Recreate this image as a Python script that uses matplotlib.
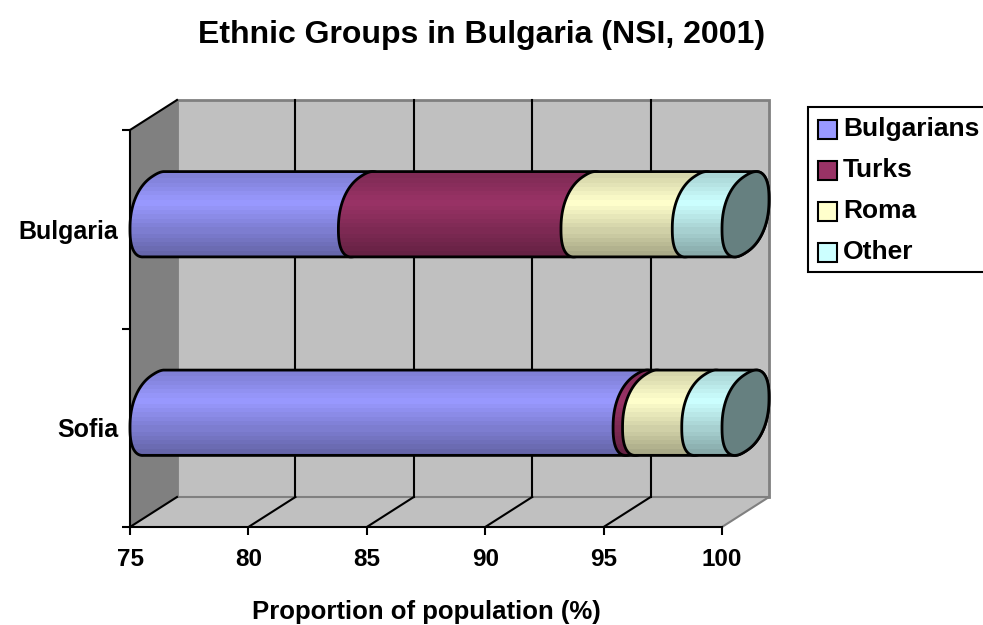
import numpy as np
import matplotlib
matplotlib.use('Agg')
import matplotlib.pyplot as plt
from matplotlib.patches import Polygon, Rectangle

# chart values
places = ['Sofia', 'Bulgaria']
groups = ['Bulgarians', 'Turks', 'Roma', 'Other']
sofia = [95.4, 0.4, 2.5, 1.7]
bulgaria = [83.8, 9.4, 4.7, 2.1]
xtick_values = [75, 80, 85, 90, 95, 100]
colors = ['#9999FF', '#993366', '#FFFFCC', '#CCFFFF']

W, H = 983, 625
plt.rcParams['font.family'] = ['Liberation Sans', 'DejaVu Sans']
plt.rcParams['font.weight'] = 'bold'

fig = plt.figure(figsize=(W / 100, H / 100), dpi=100)
ax = fig.add_axes([130 / W, 1 - 527 / H, 592 / W, 397 / H])
ax.set_xlim(75, 100)
ax.set_ylim(0, 2)

# depth of the fake 3D box, in data units
dx = 47 / (592 / 25)
dy = 30 / (397 / 2)
bar_half = 42.5 / (397 / 2)
yr = dy / 2
b = np.sqrt(bar_half ** 2 - yr ** 2) * 0.97
t_top = np.arctan2(b, yr)


def shade(color, n=40):
    # banded vertical gradient, top to bottom, lightest about a third down
    rgb = np.array(matplotlib.colors.to_rgb(color))
    t = (np.floor(np.linspace(0, 1, n) * 18) / 18)[:, None]
    f = np.where(t < 0.33, 0.84 + 0.16 * t / 0.33, 1 - 0.36 * (t - 0.33) / 0.67)
    return (rgb * f)[:, None, :]


def ring(cx, cy, t):
    # ring of the cylinder, lies in the depth plane, a bit fuller than an ellipse
    c = np.sign(np.cos(t)) * np.abs(np.cos(t)) ** 0.85
    s = np.sign(np.sin(t)) * np.abs(np.sin(t)) ** 0.85
    return np.column_stack([cx + dx / 2 * c, cy + yr * c + b * s])


# walls and floor
wall = dict(clip_on=False, zorder=0)
ax.add_patch(Polygon([(75, 0), (75 + dx, dy), (75 + dx, 2 + dy), (75, 2)],
                     facecolor='#808080', edgecolor='none', **wall))
ax.add_patch(Polygon([(75 + dx, dy), (100 + dx, dy), (100 + dx, 2 + dy), (75 + dx, 2 + dy)],
                     facecolor='#C0C0C0', edgecolor='#808080', linewidth=2, **wall))
ax.add_patch(Polygon([(75, 0), (100, 0), (100 + dx, dy), (75 + dx, dy)],
                     facecolor='#C0C0C0', edgecolor='none', **wall))
ax.plot([100, 100 + dx], [0, dy], color='#808080', lw=1.5, clip_on=False, zorder=0.5)
ax.plot([75, 75 + dx], [2, 2 + dy], color='black', lw=1.5, clip_on=False, zorder=1)
ax.plot([75 + dx, 75 + dx], [dy, 2 + dy], color='#808080', lw=1.5, clip_on=False, zorder=0.5)
ax.plot([75 + dx, 100 + dx], [dy, dy], color='#808080', lw=1.5, clip_on=False, zorder=0.5)
for v in xtick_values[:-1]:
    if v > 75:
        ax.plot([v + dx, v + dx], [dy, 2 + dy], color='black', lw=1.5, clip_on=False, zorder=1)
    ax.plot([v, v + dx], [0, dy], color='black', lw=1.5, clip_on=False, zorder=1)

# the bars, drawn left to right so each one laps over the one before
z = 2
for pos, values in enumerate([sofia, bulgaria]):
    cy = pos + 0.5 + dy / 2
    ends = np.cumsum(values)
    starts = np.concatenate([[75], ends[:-1]])
    for start, end, color in zip(starts, ends, colors):
        left = ring(start + dx / 2, cy, np.linspace(t_top, t_top + np.pi, 60))
        right = ring(end + dx / 2, cy, np.linspace(t_top + np.pi, t_top + 2 * np.pi, 60))
        pts = np.vstack([left, right])
        ax.add_patch(Polygon(pts, closed=True, facecolor='none', edgecolor='black',
                             linewidth=2, clip_on=False, zorder=z + 0.1))
        im = ax.imshow(shade(color), extent=(start, end + dx, cy - bar_half, cy + bar_half),
                       aspect='auto', interpolation='nearest', zorder=z)
        im.set_clip_path(Polygon(pts, closed=True, transform=ax.transData))
        im.set_clip_box(fig.bbox)
        z += 1
    # end cap
    cap = ring(ends[-1] + dx / 2, cy, np.linspace(0, 2 * np.pi, 120))
    ax.add_patch(Polygon(cap, closed=True, facecolor='#668080', edgecolor='black',
                         linewidth=2, clip_on=False, zorder=z))
    z += 1

ax.set_xlim(75, 100)
ax.set_ylim(0, 2)

# axes
for side in ['top', 'right']:
    ax.spines[side].set_visible(False)
for side in ['left', 'bottom']:
    ax.spines[side].set_linewidth(1.5)
    ax.spines[side].set_zorder(1.5)
ax.patch.set_visible(False)
ax.set_xticks(xtick_values)
ax.set_yticks([0, 1, 2], labels=[])
ax.set_yticks([0.5, 1.5], labels=places, minor=True)
ax.tick_params(axis='y', which='minor', length=0, labelsize=18, pad=8.5)
ax.tick_params(axis='both', which='major', length=6, width=1.5, direction='out')
ax.tick_params(axis='x', labelsize=17.5, pad=9)
ax.set_xlabel('Proportion of population (%)', fontsize=18.5, fontweight='bold', labelpad=21)
fig.text(482 / W, 1 - 35 / H, 'Ethnic Groups in Bulgaria (NSI, 2001)', fontsize=23,
         ha='center', va='center', fontweight='bold')

# legend box runs off the right edge in the original
fig.add_artist(Rectangle((808 / W, 1 - 272 / H), 200 / W, 165 / H, transform=fig.transFigure,
                         facecolor='white', edgecolor='black', linewidth=1.5))
for i, (name, color) in enumerate(zip(groups, colors)):
    yc = 129 + i * 41
    fig.add_artist(Rectangle((818 / W, 1 - (yc + 10) / H), 19 / W, 19 / H, transform=fig.transFigure,
                             facecolor=color, edgecolor='black', linewidth=1.5))
    fig.text(843 / W, 1 - yc / H, name, fontsize=19, fontweight='bold', va='center', ha='left')

fig.savefig('out.png', dpi=100)
